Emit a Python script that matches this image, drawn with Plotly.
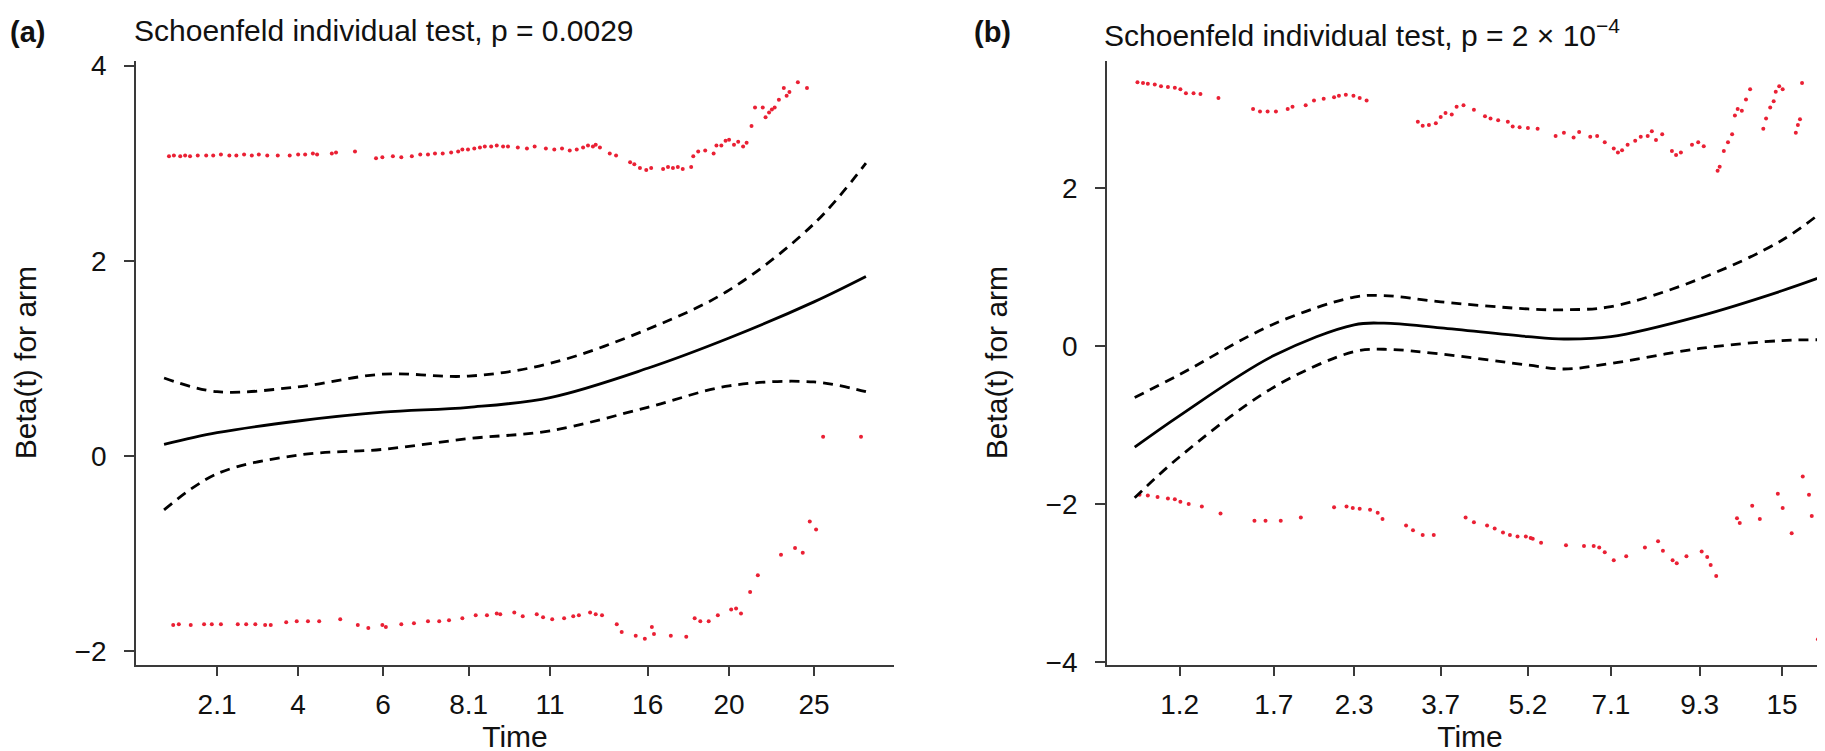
import plotly.graph_objects as go

# ---------------- Panel (a) data (x in transformed-time units) ----------------
a_curve_x = [0.0, 0.0755, 0.191, 0.312, 0.434, 0.55, 0.689, 0.805, 0.926, 1.0]
a_fit = [0.12, 0.24, 0.36, 0.45, 0.50, 0.60, 0.90, 1.21, 1.58, 1.84]
a_upper = [0.80, 0.66, 0.71, 0.84, 0.82, 0.95, 1.30, 1.70, 2.38, 3.00]
a_lower = [-0.55, -0.18, 0.01, 0.07, 0.18, 0.26, 0.50, 0.72, 0.76, 0.66]

a_top_x = [0.007, 0.014, 0.023, 0.030, 0.037, 0.048, 0.060, 0.070, 0.081, 0.093,
           0.103, 0.114, 0.125, 0.135, 0.147, 0.162, 0.179, 0.191, 0.201, 0.212,
           0.218, 0.239, 0.245, 0.272, 0.302, 0.311, 0.326, 0.338, 0.353, 0.365,
           0.376, 0.386, 0.397, 0.409, 0.419, 0.425, 0.433, 0.442, 0.450, 0.457,
           0.466, 0.474, 0.483, 0.490, 0.504, 0.517, 0.528, 0.544, 0.556, 0.567,
           0.578, 0.588, 0.597, 0.604, 0.611, 0.615, 0.621, 0.635, 0.644, 0.664,
           0.670, 0.678, 0.687, 0.694, 0.711, 0.718, 0.725, 0.732, 0.739, 0.751,
           0.754, 0.761, 0.771, 0.783, 0.787, 0.794, 0.800, 0.805, 0.812, 0.818,
           0.825, 0.830, 0.837, 0.842, 0.853, 0.857, 0.862, 0.866, 0.870, 0.876,
           0.883, 0.887, 0.891, 0.903, 0.916]
a_top_y = [3.07, 3.08, 3.07, 3.08, 3.07, 3.08, 3.08, 3.08, 3.09, 3.08,
           3.08, 3.09, 3.08, 3.09, 3.08, 3.08, 3.08, 3.09, 3.09, 3.10,
           3.09, 3.10, 3.11, 3.12, 3.05, 3.06, 3.07, 3.06, 3.07, 3.09,
           3.09, 3.10, 3.10, 3.11, 3.12, 3.14, 3.14, 3.15, 3.16, 3.17,
           3.17, 3.18, 3.17, 3.17, 3.16, 3.15, 3.17, 3.15, 3.14, 3.15,
           3.13, 3.14, 3.16, 3.18, 3.17, 3.19, 3.16, 3.10, 3.08, 3.01,
           2.99, 2.95, 2.93, 2.95, 2.94, 2.96, 2.95, 2.96, 2.94, 2.96,
           3.07, 3.12, 3.13, 3.10, 3.18, 3.18, 3.23, 3.24, 3.19, 3.22,
           3.17, 3.21, 3.38, 3.57, 3.57, 3.47, 3.52, 3.55, 3.57, 3.65,
           3.77, 3.69, 3.73, 3.83, 3.77]

a_bot_x = [0.013, 0.021, 0.038, 0.057, 0.068, 0.081, 0.105, 0.117, 0.130, 0.144,
           0.152, 0.174, 0.189, 0.205, 0.221, 0.251, 0.276, 0.291, 0.311, 0.316,
           0.338, 0.356, 0.376, 0.392, 0.406, 0.425, 0.444, 0.460, 0.474, 0.479,
           0.499, 0.511, 0.531, 0.540, 0.553, 0.570, 0.583, 0.591, 0.607, 0.615,
           0.624, 0.645, 0.652, 0.672, 0.685, 0.695, 0.698, 0.722, 0.744, 0.756,
           0.764, 0.776, 0.789, 0.808, 0.815, 0.822, 0.835, 0.846, 0.879, 0.899,
           0.910, 0.920, 0.929, 0.939, 0.993]
a_bot_y = [-1.73, -1.72, -1.73, -1.72, -1.72, -1.72, -1.72, -1.72, -1.72, -1.73,
           -1.73, -1.70, -1.69, -1.69, -1.69, -1.67, -1.73, -1.76, -1.73, -1.75,
           -1.72, -1.71, -1.69, -1.69, -1.68, -1.66, -1.63, -1.63, -1.61, -1.62,
           -1.60, -1.64, -1.62, -1.65, -1.67, -1.66, -1.64, -1.63, -1.60, -1.62,
           -1.63, -1.72, -1.80, -1.84, -1.87, -1.75, -1.82, -1.84, -1.85, -1.66,
           -1.69, -1.69, -1.63, -1.57, -1.56, -1.61, -1.39, -1.22, -1.01, -0.94,
           -0.99, -0.67, -0.75, 0.20, 0.20]

a_tickvals = [0.0755, 0.191, 0.312, 0.434, 0.550, 0.689, 0.805, 0.926]
a_ticktext = ["2.1", "4", "6", "8.1", "11", "16", "20", "25"]

# ---------------- Panel (b) data ----------------
b_curve_x = [0.0, 0.065, 0.201, 0.317, 0.36, 0.442, 0.568, 0.62, 0.688, 0.816, 0.935, 1.0]
b_fit = [-1.28, -0.88, -0.12, 0.27, 0.29, 0.23, 0.12, 0.09, 0.12, 0.38, 0.70, 0.90]
b_upper = [-0.65, -0.36, 0.28, 0.62, 0.64, 0.56, 0.47, 0.46, 0.50, 0.85, 1.34, 1.75]
b_lower = [-1.92, -1.40, -0.52, -0.07, -0.04, -0.10, -0.24, -0.29, -0.22, -0.03, 0.07, 0.08]

b_top_x = [0.004, 0.012, 0.019, 0.029, 0.038, 0.048, 0.058, 0.066, 0.074, 0.085,
           0.095, 0.121, 0.171, 0.181, 0.192, 0.204, 0.221, 0.228, 0.247, 0.259,
           0.273, 0.288, 0.295, 0.305, 0.316, 0.325, 0.335, 0.409, 0.416, 0.425,
           0.435, 0.442, 0.449, 0.458, 0.465, 0.475, 0.490, 0.506, 0.514, 0.525,
           0.539, 0.546, 0.556, 0.568, 0.582, 0.608, 0.620, 0.634, 0.642, 0.658,
           0.668, 0.679, 0.692, 0.698, 0.704, 0.712, 0.723, 0.731, 0.741, 0.747,
           0.753, 0.762, 0.776, 0.782, 0.789, 0.805, 0.814, 0.822, 0.842, 0.845,
           0.851, 0.857, 0.863, 0.867, 0.871, 0.877, 0.883, 0.889, 0.908, 0.912,
           0.918, 0.923, 0.926, 0.931, 0.936, 0.955, 0.958, 0.961, 0.964]
b_top_y = [3.34, 3.33, 3.32, 3.31, 3.29, 3.28, 3.27, 3.25, 3.20, 3.20,
           3.19, 3.14, 3.00, 2.97, 2.97, 2.97, 3.00, 3.03, 3.05, 3.11,
           3.13, 3.15, 3.17, 3.18, 3.17, 3.14, 3.11, 2.84, 2.79, 2.80,
           2.82, 2.90, 2.95, 2.93, 3.03, 3.05, 2.99, 2.91, 2.88, 2.86,
           2.84, 2.78, 2.77, 2.76, 2.75, 2.66, 2.70, 2.64, 2.71, 2.65,
           2.66, 2.58, 2.50, 2.45, 2.48, 2.55, 2.60, 2.65, 2.66, 2.72,
           2.61, 2.68, 2.47, 2.42, 2.45, 2.55, 2.58, 2.53, 2.22, 2.27,
           2.47, 2.58, 2.68, 2.92, 3.00, 2.98, 3.12, 3.25, 2.75, 2.88,
           3.02, 3.10, 3.22, 3.29, 3.25, 2.70, 2.80, 2.87, 3.33]

b_bot_x = [0.007, 0.019, 0.033, 0.048, 0.058, 0.066, 0.078, 0.097, 0.124, 0.173,
           0.189, 0.211, 0.240, 0.288, 0.306, 0.315, 0.325, 0.340, 0.351, 0.358,
           0.392, 0.402, 0.416, 0.432, 0.478, 0.490, 0.509, 0.520, 0.532, 0.542,
           0.553, 0.565, 0.572, 0.575, 0.587, 0.623, 0.649, 0.663, 0.671, 0.679,
           0.692, 0.710, 0.737, 0.756, 0.763, 0.777, 0.783, 0.797, 0.819, 0.827,
           0.832, 0.840, 0.870, 0.874, 0.892, 0.903, 0.929, 0.936, 0.949, 0.965,
           0.974, 0.978, 0.987, 0.994, 1.001]
b_bot_y = [-1.88, -1.89, -1.91, -1.93, -1.94, -1.97, -2.00, -2.03, -2.12, -2.21,
           -2.21, -2.21, -2.17, -2.04, -2.03, -2.05, -2.06, -2.07, -2.11, -2.19,
           -2.27, -2.33, -2.39, -2.39, -2.17, -2.23, -2.27, -2.31, -2.36, -2.39,
           -2.41, -2.41, -2.43, -2.44, -2.49, -2.52, -2.53, -2.53, -2.55, -2.61,
           -2.71, -2.66, -2.55, -2.47, -2.59, -2.71, -2.75, -2.66, -2.60, -2.67,
           -2.77, -2.91, -2.18, -2.24, -2.02, -2.19, -1.87, -2.05, -2.37, -1.65,
           -1.88, -2.15, -3.71, -0.37, -0.37]

b_tickvals = [0.065, 0.201, 0.317, 0.442, 0.568, 0.688, 0.816, 0.935]
b_ticktext = ["1.2", "1.7", "2.3", "3.7", "5.2", "7.1", "9.3", "15"]

a_yticks = [-2, 0, 2, 4]
b_yticks = [-4, -2, 0, 2]

# ---------------- Figure ----------------
RED = "rgb(234,32,52)"
FONT = "Liberation Sans, Arial, sans-serif"
TXT = "#111"
fig = go.Figure()


def add_panel(xa, ya, cx, fit, up, lo, tx, ty, bx, by):
    fig.add_trace(go.Scatter(x=tx, y=ty, mode="markers", xaxis=xa, yaxis=ya,
                             marker=dict(color=RED, size=4), showlegend=False))
    fig.add_trace(go.Scatter(x=bx, y=by, mode="markers", xaxis=xa, yaxis=ya,
                             marker=dict(color=RED, size=4), showlegend=False))
    fig.add_trace(go.Scatter(x=cx, y=fit, mode="lines", xaxis=xa, yaxis=ya,
                             line=dict(color="black", width=2.8, shape="spline"),
                             showlegend=False))
    for band in (up, lo):
        fig.add_trace(go.Scatter(x=cx, y=band, mode="lines", xaxis=xa, yaxis=ya,
                                 line=dict(color="black", width=2.8, shape="spline",
                                           dash="10px,7px"),
                                 showlegend=False))


add_panel("x", "y", a_curve_x, a_fit, a_upper, a_lower, a_top_x, a_top_y, a_bot_x, a_bot_y)
add_panel("x2", "y2", b_curve_x, b_fit, b_upper, b_lower, b_top_x, b_top_y, b_bot_x, b_bot_y)

ydom = [1 - 667 / 751, 1 - 44 / 751]
base = dict(showline=True, linecolor="#3a3a3a", linewidth=1.8, ticks="outside",
            ticklen=10, tickwidth=1.8, tickcolor="#3a3a3a", showgrid=False,
            zeroline=False, tickfont=dict(family=FONT, size=28, color=TXT))
xax = dict(base, ticklabelstandoff=4)
yax = dict(base, ticklabelstandoff=12)
title_font = dict(family=FONT, size=30, color=TXT)

fig.update_layout(
    width=1825, height=751,
    margin=dict(l=0, r=0, t=0, b=0),
    paper_bgcolor="white", plot_bgcolor="white",
    font=dict(family=FONT, color=TXT),
    xaxis=dict(domain=[128 / 1825, 886 / 1825], range=[-0.04, 1.04],
               tickvals=a_tickvals, ticktext=a_ticktext,
               title=dict(text="Time", font=title_font, standoff=5),
               anchor="y", **xax),
    yaxis=dict(domain=ydom, range=[-2.134, 4.05], tickvals=a_yticks,
               ticktext=["\u22122", "0", "2", "4"],
               title=dict(text="Beta(t) for arm", font=title_font, standoff=29),
               anchor="x", **yax),
    xaxis2=dict(domain=[1099 / 1825, 1.0], range=[-0.04, 1.0087],
                tickvals=b_tickvals, ticktext=b_ticktext,
                title=dict(text="Time", font=title_font, standoff=5),
                anchor="y2", **xax),
    yaxis2=dict(domain=ydom, range=[-4.031, 3.613], tickvals=b_yticks,
                ticktext=["\u22124", "\u22122", "0", "2"],
                title=dict(text="Beta(t) for arm", font=title_font, standoff=29),
                anchor="x2", **yax),
)

fig.add_annotation(text="<b>(a)</b>", xref="paper", yref="paper", x=0.0, y=1.006,
                   xanchor="left", yanchor="top", showarrow=False,
                   font=dict(family=FONT, size=29, color=TXT))
fig.add_annotation(text="Schoenfeld individual test, p = 0.0029", xref="paper", yref="paper",
                   x=124 / 1825, y=1.008, xanchor="left", yanchor="top", showarrow=False,
                   font=title_font)
fig.add_annotation(text="<b>(b)</b>", xref="paper", yref="paper", x=964 / 1825, y=1.006,
                   xanchor="left", yanchor="top", showarrow=False,
                   font=dict(family=FONT, size=29, color=TXT))
fig.add_annotation(text="Schoenfeld individual test, p = 2 \u00d7 10<sup>\u22124</sup>",
                   xref="paper", yref="paper", x=1094 / 1825, y=1.008, xanchor="left",
                   yanchor="top", showarrow=False, font=title_font)

fig.write_html("out.html")
